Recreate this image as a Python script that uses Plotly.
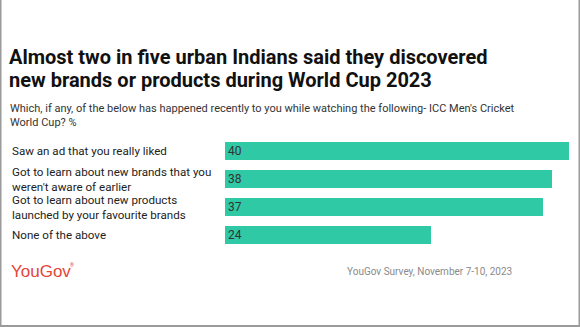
import plotly.graph_objects as go

W, H = 580, 327

categories = [
    "Saw an ad that you really liked",
    "Got to learn about new brands that you<br>weren't aware of earlier",
    "Got to learn about new products<br>launched by your favourite brands",
    "None of the above",
]
values = [40, 38, 37, 24]

title_lines = [
    "Almost two in five urban Indians said they discovered",
    "new brands or products during World Cup 2023",
]
subtitle = ("Which, if any, of the below has happened recently to you while watching the following- ICC Men's Cricket"
            "<br>World Cup? %")
source = "YouGov Survey, November 7-10, 2023"
logo = "YouGov"

FONT = "Roboto"
BAR_COLOR = "#2FC9A5"

def px_x(x):
    return x / W

def px_y(y):
    return 1 - y / H

fig = go.Figure()
fig.add_trace(go.Bar(
    x=values,
    y=categories,
    orientation="h",
    marker=dict(color=BAR_COLOR, line=dict(width=0)),
    width=0.64,
    text=[str(v) for v in values],
    textposition="inside",
    insidetextanchor="start",
    textangle=0,
    constraintext="none",
    textfont=dict(family=FONT, size=12, color="#333333"),
    cliponaxis=False,
    hoverinfo="skip",
))

annotations = []
# Title lines
for i, line in enumerate(title_lines):
    annotations.append(dict(
        text="<b>" + line + "</b>", x=px_x(7), y=px_y(57 + i * 23), xref="paper", yref="paper",
        xanchor="left", yanchor="middle", showarrow=False,
        font=dict(family=FONT, size=20, color="#111111"),
    ))
annotations.append(dict(
    text=subtitle, x=px_x(8), y=px_y(116), xref="paper", yref="paper",
    xanchor="left", yanchor="middle", showarrow=False, align="left",
    font=dict(family=FONT, size=11, color="#333333"),
))
# Category labels, left aligned
for cat in categories:
    annotations.append(dict(
        text=cat, x=px_x(10), y=cat, xref="paper", yref="y",
        xanchor="left", yanchor="middle", showarrow=False, align="left",
        font=dict(family=FONT, size=11.6, color="#222222"),
    ))
annotations.append(dict(
    text=logo, x=px_x(9), y=px_y(271), xref="paper", yref="paper",
    xanchor="left", yanchor="middle", showarrow=False,
    font=dict(family="Liberation Sans", size=17, color="#E4443B"),
))
annotations.append(dict(
    text="®", x=px_x(68), y=px_y(265), xref="paper", yref="paper",
    xanchor="left", yanchor="middle", showarrow=False,
    font=dict(family=FONT, size=5, color="#E4443B"),
))
annotations.append(dict(
    text=source, x=px_x(514), y=px_y(271), xref="paper", yref="paper",
    xanchor="right", yanchor="middle", showarrow=False,
    font=dict(family=FONT, size=10, color="#8a8a8a"),
))

fig.update_layout(
    width=W, height=H,
    margin=dict(l=0, r=0, t=0, b=0),
    paper_bgcolor="white", plot_bgcolor="white",
    showlegend=False,
    bargap=0,
    uniformtext=dict(minsize=12, mode="show"),
    xaxis=dict(domain=[px_x(225), px_x(569)], range=[0, 40], visible=False, fixedrange=True),
    yaxis=dict(domain=[px_y(249), px_y(137)], range=[3.5, -0.5], visible=False, fixedrange=True,
               type="category", categoryorder="array", categoryarray=categories),
    annotations=annotations,
    shapes=[dict(type="rect", xref="paper", yref="paper", x0=0.5 / W, x1=1 - 0.5 / W,
                 y0=1 / H, y1=1.05, line=dict(color="#9a9a9a", width=2), fillcolor="rgba(0,0,0,0)")],
)

fig.write_html("out.html", config={"displayModeBar": False})
